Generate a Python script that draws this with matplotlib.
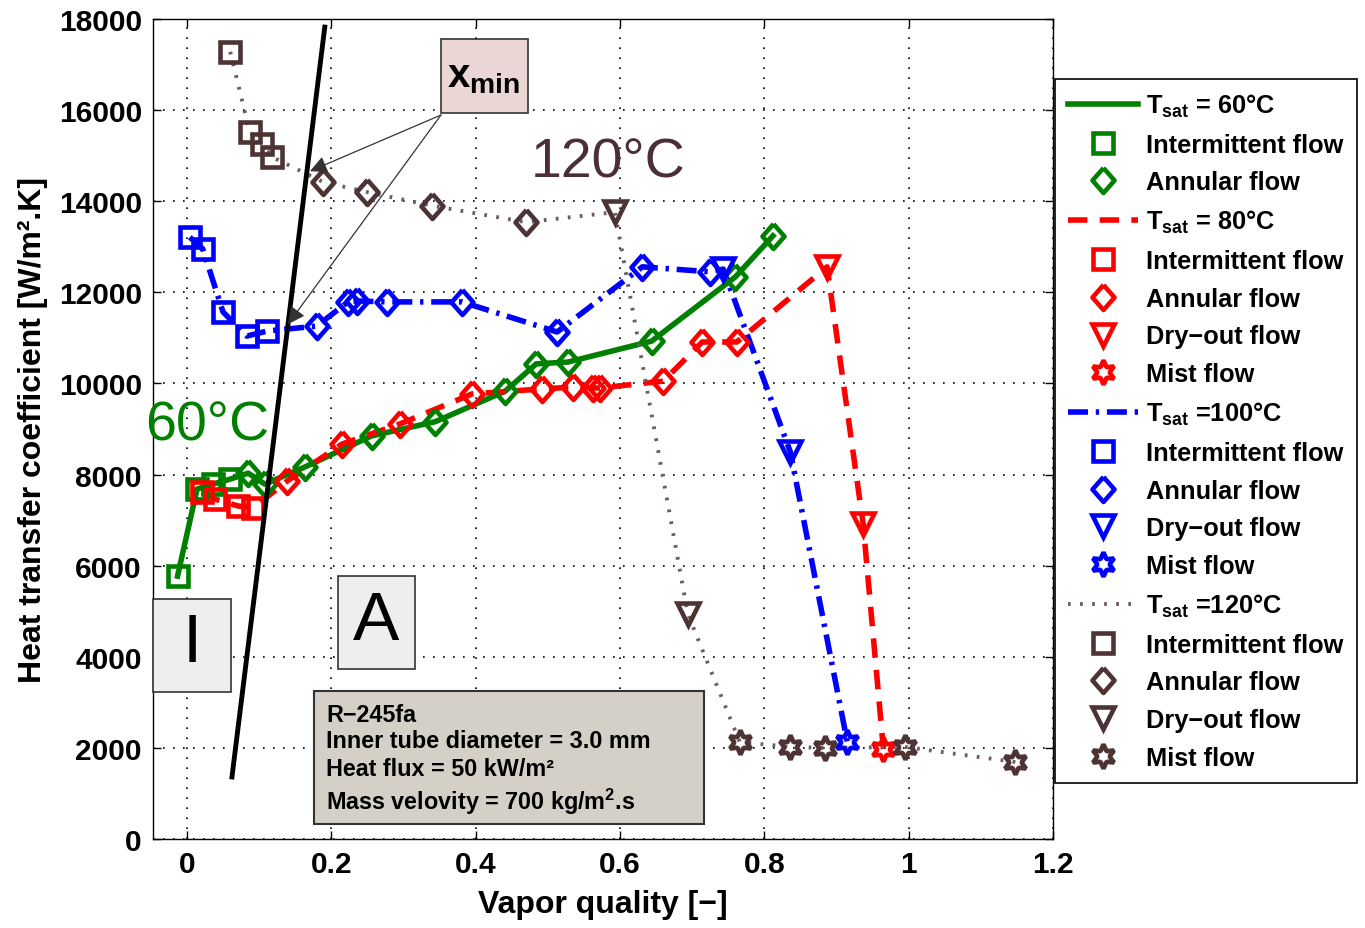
import matplotlib
matplotlib.use('Agg')
import matplotlib.pyplot as plt
from matplotlib.lines import Line2D
from matplotlib.patches import Rectangle

plt.rcParams['font.family'] = ['Liberation Sans', 'DejaVu Sans']
plt.rcParams['mathtext.fontset'] = 'custom'
plt.rcParams['mathtext.rm'] = 'Liberation Sans:bold'
plt.rcParams['mathtext.it'] = 'Liberation Sans:bold'
plt.rcParams['mathtext.bf'] = 'Liberation Sans:bold'
plt.rcParams['mathtext.sf'] = 'Liberation Sans:bold'

# ---------------- data ----------------
# T_sat = 60 C
x60_int = [-0.013, 0.014, 0.036, 0.060]
y60_int = [5770, 7680, 7790, 7900]
x60_ann = [0.085, 0.108, 0.164, 0.256, 0.344, 0.441, 0.484, 0.528, 0.644, 0.760, 0.812]
y60_ann = [8030, 7790, 8170, 8850, 9160, 9830, 10430, 10470, 10930, 12340, 13240]

# T_sat = 80 C
x80_int = [0.021, 0.039, 0.071, 0.092]
y80_int = [7620, 7460, 7310, 7270]
x80_ann = [0.139, 0.215, 0.295, 0.395, 0.492, 0.535, 0.563, 0.572, 0.660, 0.714, 0.762]
y80_ann = [7860, 8670, 9110, 9770, 9880, 9920, 9900, 9900, 10050, 10910, 10910]
x80_dry = [0.887, 0.937]
y80_dry = [12560, 6910]
x80_mist = [0.965]
y80_mist = [1975]

# T_sat = 100 C
x100_int = [0.004, 0.022, 0.050, 0.083, 0.111]
y100_int = [13210, 12950, 11570, 11040, 11150]
x100_ann = [0.180, 0.223, 0.236, 0.277, 0.381, 0.513, 0.631, 0.725]
y100_ann = [11260, 11790, 11810, 11790, 11790, 11130, 12560, 12450]
x100_dry = [0.743, 0.836]
y100_dry = [12510, 8500]
x100_mist = [0.915]
y100_mist = [2130]

# T_sat = 120 C
x120_int = [0.060, 0.087, 0.104, 0.118]
y120_int = [17280, 15520, 15260, 14970]
x120_ann = [0.189, 0.250, 0.340, 0.470]
y120_ann = [14420, 14200, 13900, 13540]
x120_dry = [0.593, 0.694]
y120_dry = [13760, 4940]
x120_mist = [0.766, 0.836, 0.884, 0.995, 1.148]
y120_mist = [2130, 2020, 2000, 2020, 1690]

# x_min boundary line and arrow targets
xmin_line_x = [0.0624, 0.191]
xmin_line_y = [1361, 17822]
xmin_arrow_x = [0.1705, 0.140]
xmin_arrow_y = [14660, 11300]

xticks = [0, 0.2, 0.4, 0.6, 0.8, 1.0, 1.2]
xticklabels = ['0', '0.2', '0.4', '0.6', '0.8', '1', '1.2']
yticks = list(range(0, 18001, 2000))

# ---------------- figure ----------------
W, H = 1365, 929
fig = plt.figure(figsize=(W / 100, H / 100), dpi=100)


def fx(px):
    return px / W


def fy(py):
    return 1 - py / H


ax = fig.add_axes([fx(153), fy(840), (1053 - 153) / W, (840 - 20) / H])
ax.set_xlim(-0.047, 1.2)
ax.set_ylim(0, 18000)

GREEN = '#008000'
RED = '#ff0000'
BLUE = '#0000ff'
BROWN = '#4d3333'
BROWN_LINE = '#6e5c64'

ls60 = '-'
ls80 = (0, (3.5, 2.2))
ls100 = (0, (3.6, 1.4, 0.6, 1.4))
ls120 = (0, (0.7, 2.4))

DIAMOND = [(0, 1), (0.88, 0), (0, -1), (-0.88, 0), (0, 1)]
mk = dict(sq=dict(marker='s', ms=14), di=dict(marker=DIAMOND, ms=18),
          tr=dict(marker='v', ms=16.5), st=dict(marker=(6, 1, 0), ms=17.5))
MEW = 3.3

series = [
    (GREEN, ls60, 4, [(x60_int, y60_int, 'sq'), (x60_ann, y60_ann, 'di')]),
    (RED, ls80, 4, [(x80_int, y80_int, 'sq'), (x80_ann, y80_ann, 'di'),
                    (x80_dry, y80_dry, 'tr'), (x80_mist, y80_mist, 'st')]),
    (BLUE, ls100, 4, [(x100_int, y100_int, 'sq'), (x100_ann, y100_ann, 'di'),
                      (x100_dry, y100_dry, 'tr'), (x100_mist, y100_mist, 'st')]),
    (BROWN, ls120, 2.8, [(x120_int, y120_int, 'sq'), (x120_ann, y120_ann, 'di'),
                         (x120_dry, y120_dry, 'tr'), (x120_mist, y120_mist, 'st')]),
]

for color, ls, lw, parts in series:
    xs, ys = [], []
    for px_, py_, _ in parts:
        xs += px_
        ys += py_
    lc = BROWN_LINE if color == BROWN else color
    ax.plot(xs, ys, color=lc, linestyle=ls, lw=lw, zorder=3)
    for px_, py_, m in parts:
        ax.plot(px_, py_, linestyle='none', color=color, mfc='none', mec=color,
                mew=MEW, zorder=4, **mk[m])

# x_min line
ax.plot(xmin_line_x, xmin_line_y, color='black', lw=3.5, zorder=6)

ax.set_xticks(xticks)
ax.set_xticklabels(xticklabels)
ax.set_yticks(yticks)
ax.tick_params(direction='in', length=6, width=1, top=True, right=True,
               labelsize=21.5, pad=8)
for lab in ax.get_xticklabels() + ax.get_yticklabels():
    lab.set_fontweight('bold')
ax.grid(True, color='black', linestyle=(0, (1, 5)), lw=1.2)
for s in ax.spines.values():
    s.set_linewidth(1.0)

ax.set_xlabel('Vapor quality [\u2212]', fontsize=23, fontweight='bold', labelpad=8)
ax.set_ylabel('Heat transfer coefficient [W/m\u00b2.K]', fontsize=23,
              fontweight='bold', labelpad=8)

# ---------------- annotations ----------------
# x_min box
fig.add_artist(Rectangle((fx(441), fy(114)), (528 - 441) / W, (114 - 40) / H,
                         transform=fig.transFigure, facecolor='#ead6d4',
                         edgecolor='#333333', lw=1.2, zorder=7))
fig.text(fx(484), fy(77), r'$\mathbf{x_{min}}$', fontsize=29, ha='center',
         va='center', zorder=8)
for tx, ty in zip(xmin_arrow_x, xmin_arrow_y):
    ax.annotate('', xy=(tx, ty), xycoords='data',
                xytext=(fx(441), fy(116)), textcoords='figure fraction',
                arrowprops=dict(arrowstyle='-|>', color='#333333', lw=0.9,
                                mutation_scale=26, shrinkA=0, shrinkB=0),
                zorder=7)

# temperature labels
fig.text(fx(608), fy(163), '120°C', fontsize=40, color='#4b2e37',
         ha='center', va='center')
fig.text(fx(207), fy(427), '60°C', fontsize=40, color=GREEN,
         ha='center', va='center')

# regime boxes
for (x0, y0, x1, y1, lab) in [(153, 600, 231, 693, 'I'), (338, 577, 415, 670, 'A')]:
    fig.add_artist(Rectangle((fx(x0), fy(y1)), (x1 - x0) / W, (y1 - y0) / H,
                             transform=fig.transFigure, facecolor='#eeeeee',
                             edgecolor='#333333', lw=1.2, zorder=7))
    fig.text(fx((x0 + x1) / 2), fy((y0 + y1) / 2 - 2), lab, fontsize=50,
             ha='center', va='center', zorder=8)

# info box
fig.add_artist(Rectangle((fx(314), fy(825)), (704 - 314) / W, (825 - 692) / H,
                         transform=fig.transFigure, facecolor='#d4d0c8',
                         edgecolor='#333333', lw=1.5, zorder=7))
info = ['R\u2212245fa', 'Inner tube diameter = 3.0 mm',
        'Heat flux = 50 kW/m\u00b2', r'Mass velovity = 700 kg/m$^{\mathbf{2}}$.s']
for i, (t, yy) in enumerate(zip(info, [715, 742, 769, 802])):
    fig.text(fx(326), fy(yy), t, fontsize=16.8, fontweight='bold',
             ha='left', va='center', zorder=8)

# ---------------- legend ----------------
def hdr(color, ls, lw):
    return Line2D([], [], color=color, linestyle=ls, lw=lw)


def mh(color, m):
    return Line2D([], [], color=color, linestyle='none', mfc='none', mec=color,
                  mew=MEW, **mk[m])


handles, labels = [], []
regime_names = {'sq': 'Intermittent flow', 'di': 'Annular flow',
                'tr': 'Dry\u2212out flow', 'st': 'Mist flow'}
header_labels = [r'T$_{\mathbf{sat}}$ = 60°C', r'T$_{\mathbf{sat}}$ = 80°C',
                 r'T$_{\mathbf{sat}}$ =100°C', r'T$_{\mathbf{sat}}$ =120°C']
for (color, ls, lw, parts), hl in zip(series, header_labels):
    lc = BROWN_LINE if color == BROWN else color
    handles.append(hdr(lc, ls, lw))
    labels.append(hl)
    for _, _, m in parts:
        handles.append(mh(color, m))
        labels.append(regime_names[m])

leg = fig.legend(handles, labels, loc='upper left',
                 bbox_to_anchor=(fx(1055), fy(80)), borderaxespad=0,
                 frameon=True, fancybox=False, edgecolor='black',
                 framealpha=1, handlelength=2.75, handletextpad=0.35,
                 labelspacing=0.54, borderpad=0.5,
                 prop={'weight': 'bold', 'size': 18.3})
leg.get_frame().set_linewidth(1.2)

fig.savefig('out.png', dpi=100)
